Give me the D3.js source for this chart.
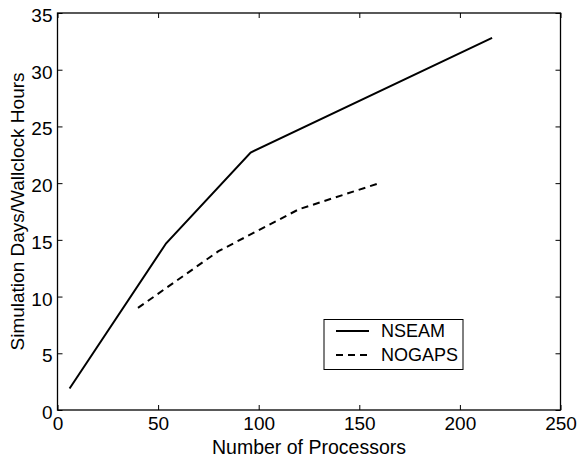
<!DOCTYPE html>
<html><head><meta charset="utf-8">
<script src="https://cdn.jsdelivr.net/npm/d3@7"></script>
<style>body{margin:0;background:#fff}</style>
</head><body>
<svg id="c" width="577" height="458"></svg>
<script>
const nseamX = [6, 54, 96, 216];
const nseamY = [1.9, 14.7, 22.7, 32.8];
const nogapsX = [40, 80, 120, 160];
const nogapsY = [9.0, 14.0, 17.7, 20.0];
const xTicks = [0, 50, 100, 150, 200, 250];
const yTicks = [0, 5, 10, 15, 20, 25, 30, 35];
const seriesNames = ["NSEAM", "NOGAPS"];

const svg = d3.select("#c");
const L = 57.5, R = 560.5, T = 13, B = 410;
const x = d3.scaleLinear().domain([0, 250]).range([L, R]);
const y = d3.scaleLinear().domain([0, 35]).range([B, T]);
const font = "Liberation Sans, Arial, Helvetica, sans-serif";

svg.append("rect").attr("x", L).attr("y", T).attr("width", R - L).attr("height", B - T)
  .attr("fill", "none").attr("stroke", "#000").attr("stroke-width", 1.3);

const tl = 5;
const gx = svg.append("g").attr("transform", `translate(0,${B})`)
  .call(d3.axisBottom(x).tickValues(xTicks).tickSizeInner(-tl).tickSizeOuter(0).tickPadding(7));
const gxt = svg.append("g").attr("transform", `translate(0,${T})`)
  .call(d3.axisTop(x).tickValues(xTicks).tickSizeInner(-tl).tickSizeOuter(0).tickFormat(""));
const gy = svg.append("g").attr("transform", `translate(${L},0)`)
  .call(d3.axisLeft(y).tickValues(yTicks).tickSizeInner(-tl).tickSizeOuter(0).tickPadding(5));
const gyr = svg.append("g").attr("transform", `translate(${R},0)`)
  .call(d3.axisRight(y).tickValues(yTicks).tickSizeInner(-tl).tickSizeOuter(0).tickFormat(""));
[gx, gxt, gy, gyr].forEach(g => {
  g.select(".domain").remove();
  g.selectAll("line").attr("stroke", "#000").attr("stroke-width", 1);
  g.selectAll("text").attr("font-family", font).attr("font-size", 19).attr("fill", "#000");
});
gy.selectAll("text").attr("dy", "0.45em");

const line = d3.line().x(d => x(d[0])).y(d => y(d[1]));
const nseam = nseamX.map((v, i) => [v, nseamY[i]]);
const nogaps = nogapsX.map((v, i) => [v, nogapsY[i]]);
svg.append("path").attr("d", line(nseam)).attr("fill", "none").attr("stroke", "#000").attr("stroke-width", 2);
svg.append("path").attr("d", line(nogaps)).attr("fill", "none").attr("stroke", "#000").attr("stroke-width", 2)
  .attr("stroke-dasharray", "7,5");

svg.append("text").attr("x", (L + R) / 2).attr("y", 454).attr("text-anchor", "middle")
  .attr("font-family", font).attr("font-size", 19.5).text("Number of Processors");
svg.append("text").attr("transform", `translate(24,${(T + B) / 2}) rotate(-90)`).attr("text-anchor", "middle")
  .attr("font-family", font).attr("font-size", 19).text("Simulation Days/Wallclock Hours");

const lg = svg.append("g");
lg.append("rect").attr("x", 324).attr("y", 319.5).attr("width", 139).attr("height", 50)
  .attr("fill", "#fff").attr("stroke", "#000").attr("stroke-width", 1);
const dashes = [null, "7,5"];
seriesNames.forEach((n, i) => {
  const cy = 331 + i * 24;
  lg.append("line").attr("x1", 336).attr("x2", 369).attr("y1", cy).attr("y2", cy)
    .attr("stroke", "#000").attr("stroke-width", 2).attr("stroke-dasharray", dashes[i]);
  lg.append("text").attr("x", 381).attr("y", cy).attr("dy", "0.35em")
    .attr("font-family", font).attr("font-size", 18).text(n);
});
</script>
</body></html>
